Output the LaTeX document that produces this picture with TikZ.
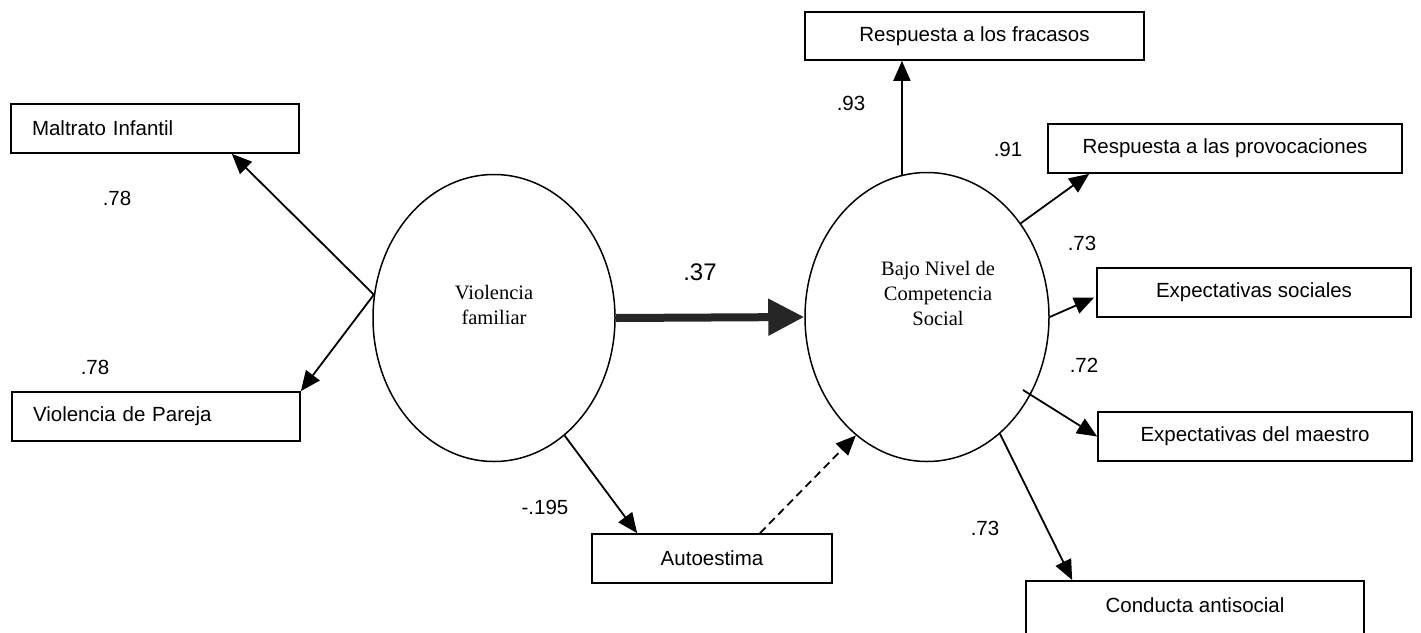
\documentclass[tikz,border=0pt]{standalone}
\usepackage{fontspec}
\setmainfont{Liberation Sans}
\newfontfamily\tnr{Liberation Serif}
\usetikzlibrary{shapes.geometric,arrows.meta,calc}
\begin{document}
\begin{tikzpicture}[x=1pt,y=-1pt,
  box/.style={draw, line width=1.7pt, inner sep=0pt, minimum height=49pt, align=center, font=\fontsize{20.5}{24}\selectfont},
  lat/.style={draw, ellipse, line width=1.5pt, inner sep=0pt, minimum width=242pt, minimum height=287pt},
  lattext/.style={font=\tnr\fontsize{20.5}{25}\selectfont, align=center},
  coef/.style={font=\fontsize{20.5}{24}\selectfont, inner sep=0pt},
  arr/.style={line width=1.8pt, -{Triangle[length=20pt,width=17pt]}},
  ]
\useasboundingbox (0,0) rectangle (1421,632);
% boxes
\node[box, minimum width=288pt, text width=246pt, align=left, inner xsep=21pt] (mi) at (155,128.5) {Maltrato Infantil};
\node[box, minimum width=288pt, text width=246pt, align=left, inner xsep=21pt] (vp) at (156,416.5) {Violencia de Pareja};
\node[box, minimum width=240pt] (au) at (712,558.5) {Autoestima};
\node[box, minimum width=339pt, minimum height=48pt] (fr) at (974.5,36) {Respuesta a los fracasos};
\node[box, minimum width=354pt] (pr) at (1225,148.5) {Respuesta a las provocaciones};
\node[box, minimum width=314pt] (so) at (1254,292.5) {Expectativas sociales};
\node[box, minimum width=314pt] (ma) at (1255,436.5) {Expectativas del maestro};
\node[box, minimum width=338pt, minimum height=0pt, text height=31.5pt, text depth=28.5pt, anchor=north] (co) at (1195,580) {Conducta antisocial};
% latent variables
\node[lat] (vf) at (494,318) {};
\node[lattext] (vft) at (494,305) {Violencia\\familiar};
\node[lat, minimum width=244pt, minimum height=289pt] (bn) at (927,317) {};
\node[lattext] (bnt) at (938,293) {Bajo Nivel de\\Competencia\\Social};
% connectors
\draw[arr] (vf.169) -- ($(mi.south east)+(-68,0)$);
\draw[arr] (vf.169) -- (vp.north east);
\draw[arr] (vf.-59) -- ($(au.north west)+(46,0)$);
\draw[line width=8pt, draw=black!85, fill=black!85, -{Triangle[length=36pt,width=35pt]}] (vf.east) -- (bn.west);
\draw[arr, dash pattern=on 8pt off 5pt] ($(au.north)+(48,0)$) -- (bn.-121);
\draw[arr] (bn.100) -- (bn.100 |- fr.south);
\draw[arr] (bn.45) -- ($(pr.south west)+(42,0)$);
\draw[arr] (bn.east) -- ($(so.west)+(-2,5)$);
\coordinate (m0) at (1023,390);
\draw[arr] (m0) -- (ma.west);
\draw[arr] (bn.-58) -- ($(co.north west)+(47,0)$);
% coefficients
\node[coef] (l1) at (117,198) {.78};
\node[coef] (l2) at (95,367) {.78};
\node[coef, font=\fontsize{24}{28}\selectfont] (l3) at (700,272) {.37};
\node[coef] (l4) at (545,507) {-.195};
\node[coef] (l5) at (851,103) {.93};
\node[coef] (l6) at (1008,149) {.91};
\node[coef] (l7) at (1082,243) {.73};
\node[coef] (l8) at (1084,365) {.72};
\node[coef] (l9) at (985,528) {.73};
\end{tikzpicture}
\end{document}
